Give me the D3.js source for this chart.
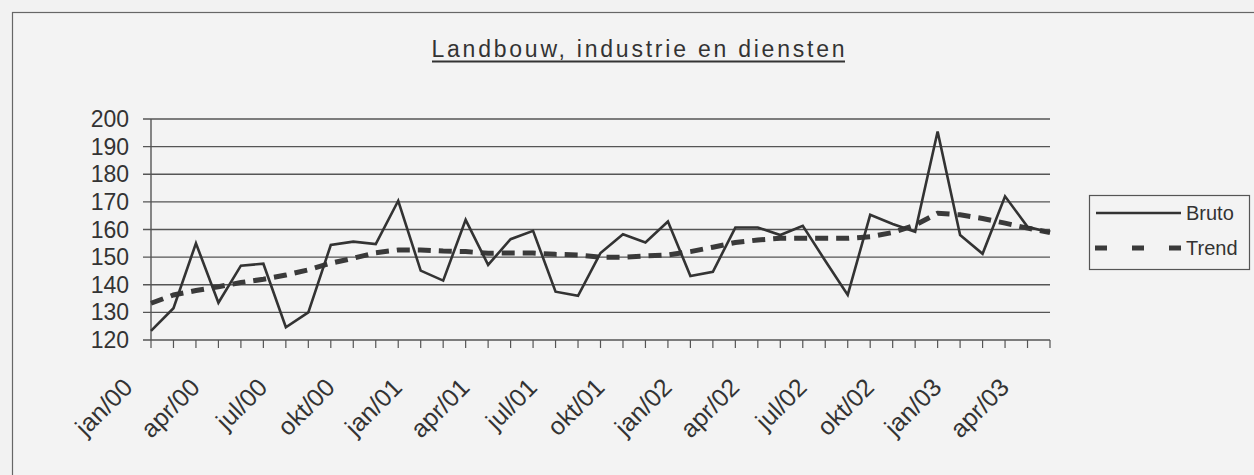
<!DOCTYPE html>
<html>
<head>
<meta charset="utf-8">
<script src="https://cdn.jsdelivr.net/npm/d3@7"></script>
<style>
  body { margin: 0; background: #f2f2f2; }
  text { font-family: "Liberation Sans", Arial, sans-serif; fill: #333; }
</style>
</head>
<body>
<div id="chart"></div>
<script>
const width = 1254
const height = 475

const months = [
  "jan/00","feb/00","mrt/00","apr/00","mei/00","jun/00","jul/00","aug/00","sep/00","okt/00","nov/00","dec/00",
  "jan/01","feb/01","mrt/01","apr/01","mei/01","jun/01","jul/01","aug/01","sep/01","okt/01","nov/01","dec/01",
  "jan/02","feb/02","mrt/02","apr/02","mei/02","jun/02","jul/02","aug/02","sep/02","okt/02","nov/02","dec/02",
  "jan/03","feb/03","mrt/03","apr/03","mei/03"
]
const bruto = [
  123.3, 131.5, 155.0, 133.5, 146.9, 147.6, 124.6, 130.0, 154.4, 155.6, 154.7, 170.4,
  145.1, 141.5, 163.5, 147.2, 156.5, 159.5, 137.5, 136.0, 151.5, 158.3, 155.3, 162.9,
  143.2, 144.7, 160.7, 160.7, 158.0, 161.3, 148.7, 136.3, 165.3, 162.0, 159.2, 195.5,
  158.0, 151.2, 172.0, 161.0, 158.9
]
const trend = [
  133.3, 136.3, 137.9, 139.3, 140.8, 142.0, 143.5, 145.4, 147.8, 149.6, 151.6, 152.6,
  152.6, 152.2, 152.0, 151.4, 151.5, 151.5, 151.0, 150.8, 150.0, 150.0, 150.4, 150.8,
  152.0, 153.6, 155.3, 156.2, 156.8, 156.8, 156.8, 156.8, 157.4, 158.9, 161.6, 165.9,
  165.3, 164.0, 162.3, 160.5, 158.9
]
const yTicks = [120, 130, 140, 150, 160, 170, 180, 190, 200]
const labelMonths = ["jan", "apr", "jul", "okt"]

const svg = d3.select("#chart")
              .append("svg")
              .attr("width", width)
              .attr("height", height)

// outer frame (scanned sheet)
svg.append("rect")
   .attr("x", 12.5).attr("y", 12.5)
   .attr("width", width + 20).attr("height", height + 20)
   .attr("fill", "#f3f3f3")
   .attr("stroke", "#666").attr("stroke-width", 1.2)

const x = d3.scalePoint().domain(months).range([151, 1050])
const y = d3.scaleLinear().domain([120, 200]).range([340, 119])

// gridlines
svg.append("g")
   .selectAll("line")
   .data(yTicks)
   .enter()
   .append("line")
   .attr("x1", 143).attr("x2", 1050)
   .attr("y1", d => y(d)).attr("y2", d => y(d))
   .attr("stroke", "#555").attr("stroke-width", 1.4)

// y axis
svg.append("line")
   .attr("x1", 151).attr("x2", 151)
   .attr("y1", y(200)).attr("y2", y(120))
   .attr("stroke", "#555").attr("stroke-width", 1.4)

svg.append("g")
   .selectAll("text")
   .data(yTicks)
   .enter()
   .append("text")
   .attr("x", 129)
   .attr("y", d => y(d) + 8)
   .attr("text-anchor", "end")
   .style("font-size", "23px")
   .text(d => d)

// x ticks
svg.append("g")
   .selectAll("line")
   .data(months)
   .enter()
   .append("line")
   .attr("x1", d => x(d)).attr("x2", d => x(d))
   .attr("y1", 340).attr("y2", 348)
   .attr("stroke", "#555").attr("stroke-width", 1.2)

svg.append("g")
   .selectAll("text")
   .data(months.filter(m => labelMonths.includes(m.slice(0, 3))))
   .enter()
   .append("text")
   .attr("text-anchor", "end")
   .attr("transform", d => `translate(${x(d) - 17}, 389) rotate(-45)`)
   .style("font-size", "25px")
   .text(d => d)

// lines
const line = data => d3.line()
                       .x((d, i) => x(months[i]))
                       .y(d => y(d))(data)

svg.append("path")
   .attr("d", line(trend))
   .attr("fill", "none")
   .attr("stroke", "#3a3a3a")
   .attr("stroke-width", 5)
   .attr("stroke-dasharray", "13,8")

svg.append("path")
   .attr("d", line(bruto))
   .attr("fill", "none")
   .attr("stroke", "#333")
   .attr("stroke-width", 2.6)
   .attr("stroke-linejoin", "miter")

// title
svg.append("text")
   .attr("x", 638)
   .attr("y", 57)
   .attr("text-anchor", "middle")
   .attr("textLength", 413)
   .attr("lengthAdjust", "spacing")
   .style("font-size", "23px")
   .text("Landbouw, industrie en diensten")

svg.append("line")
   .attr("x1", 432).attr("x2", 845)
   .attr("y1", 61.5).attr("y2", 61.5)
   .attr("stroke", "#333").attr("stroke-width", 1.8)

// legend
const legend = svg.append("g").attr("id", "legend")

legend.append("rect")
      .attr("x", 1089.5).attr("y", 195.5)
      .attr("width", 160).attr("height", 74)
      .attr("fill", "none")
      .attr("stroke", "#555").attr("stroke-width", 1.2)

legend.append("line")
      .attr("x1", 1096).attr("x2", 1181)
      .attr("y1", 213).attr("y2", 213)
      .attr("stroke", "#333").attr("stroke-width", 2.6)

legend.append("line")
      .attr("x1", 1095).attr("x2", 1182)
      .attr("y1", 248).attr("y2", 248)
      .attr("stroke", "#3a3a3a").attr("stroke-width", 5)
      .attr("stroke-dasharray", "12,25")

legend.append("text")
      .attr("x", 1186).attr("y", 220)
      .style("font-size", "20px")
      .text("Bruto")

legend.append("text")
      .attr("x", 1186).attr("y", 255)
      .style("font-size", "20px")
      .text("Trend")
</script>
</body>
</html>
